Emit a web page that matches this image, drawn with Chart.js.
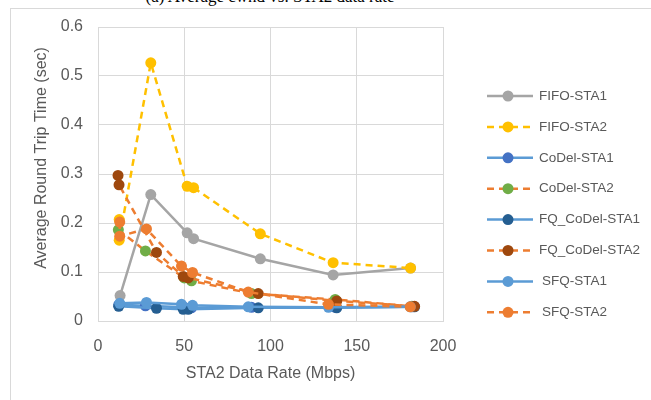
<!DOCTYPE html>
<html>
<head>
<meta charset="utf-8">
<script src="https://cdn.jsdelivr.net/npm/chart.js@4/dist/chart.umd.min.js"></script>
<style>
  html, body { margin: 0; padding: 0; background: #fff; }
  #wrap { position: relative; width: 651px; height: 400px; overflow: hidden; }
  #cap { position: absolute; left: 0; width: 540px; top: -13px; text-align: center;
         font-family: "Liberation Serif", "DejaVu Serif", serif; font-size: 17px; color: #000; }
  canvas { position: absolute; left: 0; top: 0; }
</style>
</head>
<body>
<div id="wrap">
  <div id="cap">(a) Average cwnd vs. STA2 data rate</div>
  <canvas id="c" width="651" height="400"></canvas>
</div>
<script>
// ---- data ----
const seriesNames = ["FIFO-STA1", "FIFO-STA2", "CoDel-STA1", "CoDel-STA2",
                     "FQ_CoDel-STA1", "FQ_CoDel-STA2", "SFQ-STA1", "SFQ-STA2"];

const fifoSta1X = [12.8, 30.6, 51.7, 55.4, 94.1, 136.3, 181.2];
const fifoSta1Y = [0.052, 0.258, 0.180, 0.168, 0.127, 0.094, 0.108];

const fifoSta2X = [12.3, 12.3, 30.6, 51.7, 55.4, 94.1, 136.3, 181.2];
const fifoSta2Y = [0.207, 0.165, 0.527, 0.275, 0.272, 0.178, 0.119, 0.108];

const codelSta1X = [12.0, 27.5, 50.0, 54.2, 89.0, 137.5, 182.0];
const codelSta1Y = [0.033, 0.031, 0.028, 0.027, 0.028, 0.028, 0.029];

const codelSta2X = [11.8, 27.5, 50.0, 54.2, 89.0, 137.5, 182.0];
const codelSta2Y = [0.186, 0.143, 0.088, 0.082, 0.056, 0.044, 0.030];

const fqSta1X = [12.0, 33.9, 49.4, 52.3, 92.9, 138.4, 183.5];
const fqSta1Y = [0.030, 0.026, 0.024, 0.024, 0.027, 0.027, 0.029];

const fqSta2X = [11.6, 12.2, 33.9, 49.4, 52.3, 92.9, 138.4, 183.5];
const fqSta2Y = [0.297, 0.278, 0.140, 0.091, 0.088, 0.056, 0.041, 0.030];

const sfqSta1X = [12.6, 28.1, 48.4, 54.8, 87.1, 133.6, 181.0];
const sfqSta1Y = [0.036, 0.038, 0.034, 0.032, 0.029, 0.028, 0.029];

const sfqSta2X = [12.6, 12.6, 28.1, 48.4, 54.8, 87.1, 133.6, 181.0];
const sfqSta2Y = [0.202, 0.173, 0.188, 0.112, 0.099, 0.059, 0.034, 0.029];

const xTicks = [0, 50, 100, 150, 200];
const yTicks = [0, 0.1, 0.2, 0.3, 0.4, 0.5, 0.6];
const xTitle = "STA2 Data Rate (Mbps)";
const yTitle = "Average Round Trip Time (sec)";

// ---- styles ----
const styles = [
  { line: "#A5A5A5", marker: "#A5A5A5", dash: [] },
  { line: "#FFC000", marker: "#FFC000", dash: [7, 5] },
  { line: "#5B9BD5", marker: "#4472C4", dash: [] },
  { line: "#ED7D31", marker: "#70AD47", dash: [7, 5] },
  { line: "#5B9BD5", marker: "#255E91", dash: [] },
  { line: "#ED7D31", marker: "#9E480E", dash: [7, 5] },
  { line: "#5B9BD5", marker: "#5B9BD5", dash: [] },
  { line: "#ED7D31", marker: "#ED7D31", dash: [7, 5] }
];
const xs = [fifoSta1X, fifoSta2X, codelSta1X, codelSta2X, fqSta1X, fqSta2X, sfqSta1X, sfqSta2X];
const ys = [fifoSta1Y, fifoSta2Y, codelSta1Y, codelSta2Y, fqSta1Y, fqSta2Y, sfqSta1Y, sfqSta2Y];

const datasets = seriesNames.map((name, i) => ({
  label: name,
  data: xs[i].map((x, k) => ({ x: x, y: ys[i][k] })),
  showLine: true,
  borderColor: styles[i].line,
  borderWidth: 2.5,
  borderDash: styles[i].dash,
  backgroundColor: styles[i].marker,
  pointBackgroundColor: styles[i].marker,
  pointBorderColor: styles[i].marker,
  pointRadius: 5.5,
  pointBorderWidth: 0,
  tension: 0,
  order: seriesNames.length - 1 - i
}));

const FONT = "'Liberation Sans', Arial, sans-serif";

const frame = {
  id: "frame",
  beforeDraw(chart) {
    const ctx = chart.ctx;
    ctx.save();
    ctx.strokeStyle = "#D9D9D9";
    ctx.lineWidth = 1;
    ctx.strokeRect(10.5, 8.5, 700, 500);
    ctx.restore();
  }
};

const yTitlePlugin = {
  id: "yTitlePlugin",
  afterDraw(chart) {
    const ctx = chart.ctx;
    ctx.save();
    ctx.translate(42, 158);
    ctx.rotate(-Math.PI / 2);
    ctx.fillStyle = "#595959";
    ctx.font = "16px " + FONT;
    ctx.textAlign = "center";
    ctx.textBaseline = "middle";
    ctx.fillText(yTitle, 0, 0);
    ctx.restore();
  }
};

const customLegend = {
  id: "customLegend",
  afterDraw(chart) {
    const ctx = chart.ctx;
    ctx.save();
    const x0 = 487, x1 = 533, mx = 508, tx = 539;
    const y0 = 96, dy = 30.9;
    chart.data.datasets.forEach((ds, i) => {
      const y = y0 + i * dy;
      ctx.strokeStyle = ds.borderColor;
      ctx.lineWidth = 2.5;
      ctx.setLineDash(ds.borderDash);
      ctx.beginPath();
      ctx.moveTo(x0, y);
      ctx.lineTo(x1, y);
      ctx.stroke();
      ctx.setLineDash([]);
      ctx.fillStyle = ds.pointBackgroundColor;
      ctx.beginPath();
      ctx.arc(mx, y, 5.5, 0, Math.PI * 2);
      ctx.fill();
      ctx.fillStyle = "#595959";
      ctx.font = "13.5px " + FONT;
      ctx.textBaseline = "middle";
      ctx.textAlign = "left";
      const extra = (ds.label.startsWith("SFQ")) ? 3 : 0;
      ctx.fillText(ds.label, tx + extra, y);
    });
    ctx.restore();
  }
};

new Chart(document.getElementById("c"), {
  type: "scatter",
  data: { datasets: datasets },
  options: {
    responsive: false,
    animation: false,
    devicePixelRatio: 1,
    layout: { padding: { left: 0, top: 27, right: 208, bottom: 0 } },
    plugins: {
      legend: { display: false },
      tooltip: { enabled: false },
      title: { display: false }
    },
    scales: {
      x: {
        type: "linear",
        min: 0, max: 200,
        afterBuildTicks(scale) { scale.ticks = xTicks.map(v => ({ value: v })); },
        afterFit(scale) { scale.height = 79; },
        grid: { color: "#D9D9D9", lineWidth: 1, drawTicks: false },
        border: { color: "#D9D9D9" },
        ticks: { color: "#595959", font: { family: FONT, size: 16 }, padding: 16 },
        title: { display: true, text: xTitle, color: "#595959",
                 font: { family: FONT, size: 16 }, padding: { top: 0, bottom: 17 } }
      },
      y: {
        type: "linear",
        min: 0, max: 0.6,
        afterBuildTicks(scale) { scale.ticks = yTicks.map(v => ({ value: v })); },
        afterFit(scale) { scale.width = 98; },
        grid: { color: "#D9D9D9", lineWidth: 1, drawTicks: false },
        border: { color: "#D9D9D9" },
        ticks: { color: "#595959", font: { family: FONT, size: 16 }, padding: 15,
                 callback: v => (Math.round(v * 10) / 10).toString() },
        title: { display: false }
      }
    }
  },
  plugins: [frame, yTitlePlugin, customLegend]
});
</script>
</body>
</html>
